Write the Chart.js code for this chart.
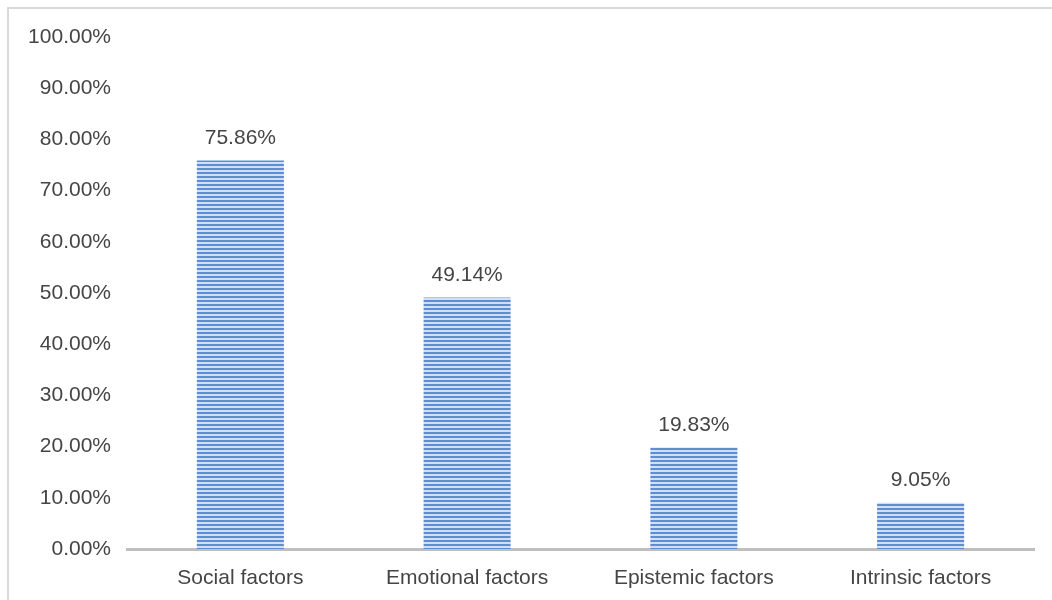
<!DOCTYPE html>
<html>
<head>
<meta charset="utf-8">
<script src="https://cdn.jsdelivr.net/npm/chart.js@4.4.1/dist/chart.umd.min.js"></script>
<style>
  html, body { margin: 0; padding: 0; background: #fff; }
  #wrap { position: relative; width: 1052px; height: 600px; overflow: hidden; }
  #frame { position: absolute; left: 7px; top: 7px; width: 1100px; height: 700px;
           border-left: 2px solid #d9d9d9; border-top: 2px solid #d9d9d9; box-sizing: border-box; }
  canvas { position: absolute; left: 0; top: 0; }
</style>
</head>
<body>
<div id="wrap">
  <div id="frame"></div>
  <canvas id="c" width="1052" height="600"></canvas>
</div>
<script>
// Share of respondents citing each group of factors (%)
const categories = ['Social factors', 'Emotional factors', 'Epistemic factors', 'Intrinsic factors'];
const shares = [75.86, 49.14, 19.83, 9.05];
const yMax = 100;
const yStep = 10;

const FONT = 'Liberation Sans, Arial, sans-serif';
const TEXT = '#454545';

// Horizontal stripe fill for the bars
function stripeFill() {
  const p = document.createElement('canvas');
  p.width = 4; p.height = 4;
  const g = p.getContext('2d');
  g.fillStyle = '#d2def1';
  g.fillRect(0, 0, 4, 4);
  g.fillStyle = '#5e8dd1';
  g.fillRect(0, 0, 4, 2);
  return g.createPattern(p, 'repeat');
}

const valueLabels = {
  id: 'valueLabels',
  afterDatasetsDraw(chart) {
    const ctx = chart.ctx;
    const meta = chart.getDatasetMeta(0);
    ctx.save();
    ctx.font = '21px ' + FONT;
    ctx.fillStyle = TEXT;
    ctx.textAlign = 'center';
    ctx.textBaseline = 'middle';
    meta.data.forEach((bar, i) => {
      ctx.fillText(shares[i].toFixed(2) + '%', bar.x, bar.y - 22);
    });
    ctx.restore();
  }
};

new Chart(document.getElementById('c'), {
  type: 'bar',
  data: {
    labels: categories,
    datasets: [{
      data: shares,
      backgroundColor: stripeFill(),
      borderWidth: 0,
      categoryPercentage: 1,
      barPercentage: 0.384
    }]
  },
  options: {
    responsive: false,
    animation: false,
    layout: { padding: { top: 37, right: 18, left: 0, bottom: 0 } },
    plugins: { legend: { display: false }, tooltip: { enabled: false } },
    scales: {
      x: {
        grid: { display: false, drawTicks: false },
        border: { display: true, color: '#bfbfbf', width: 3 },
        ticks: { color: TEXT, font: { family: FONT, size: 21 }, padding: 17, maxRotation: 0 },
        afterFit(s) { s.height = 51; }
      },
      y: {
        min: 0, max: yMax,
        grid: { display: false, drawTicks: false },
        border: { display: false },
        ticks: {
          stepSize: yStep,
          color: TEXT,
          font: { family: FONT, size: 21 },
          padding: 16,
          callback: v => v.toFixed(2) + '%'
        },
        afterFit(s) { s.width = 127; }
      }
    }
  },
  plugins: [valueLabels]
});
</script>
</body>
</html>
